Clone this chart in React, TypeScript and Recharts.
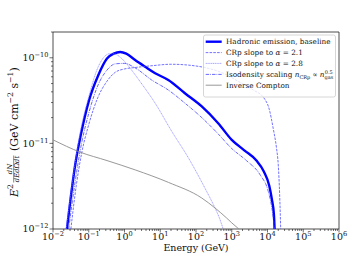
import { LineChart, Line, XAxis, YAxis, ReferenceArea } from 'recharts';

// ── Data (energy in GeV, flux in GeV cm^-2 s^-1) ─────────────────────────────
const BASE_E = [0.0245, 0.0316, 0.0417, 0.06, 0.1, 0.186, 0.324, 0.5, 0.76, 1.12, 1.98, 3.77, 7.2, 16.8, 49, 145, 417, 1000, 2240, 4900, 7900, 11200, 13200, 15100, 15800];
const BASE_F = [1e-12, 2.4e-12, 5.6e-12, 1.26e-11, 3.1e-11, 6.3e-11, 9.8e-11, 1.12e-10, 1.17e-10, 1.12e-10, 9.4e-11, 7.85e-11, 6.6e-11, 5.5e-11, 3.85e-11, 2.7e-11, 1.72e-11, 1.1e-11, 8.3e-12, 6.3e-12, 4.7e-12, 3.2e-12, 2.24e-12, 1.48e-12, 1e-12];

const A21_E = [0.0316, 0.0447, 0.063, 0.1, 0.178, 0.316, 0.56, 1.0, 2.0, 6.3, 20, 63, 200, 630, 1580, 4000, 7900, 11200, 14500, 17800, 20000, 21900, 23400];
const A21_F = [1e-12, 3.2e-12, 7.6e-12, 1.66e-11, 3.4e-11, 5.25e-11, 6.8e-11, 7.4e-11, 7.7e-11, 8.1e-11, 8.4e-11, 8.2e-11, 7.6e-11, 6.5e-11, 5.25e-11, 4.2e-11, 3.4e-11, 2.5e-11, 1.48e-11, 8.9e-12, 5.6e-12, 2.5e-12, 1e-12];

const A28_E = [0.0234, 0.0316, 0.056, 0.1, 0.178, 0.28, 0.4, 0.56, 0.79, 1.26, 2.0, 2.75, 7.2, 21, 61, 178, 340, 450, 575];
const A28_F = [1e-12, 2.6e-12, 1.26e-11, 3.5e-11, 7.6e-11, 1.04e-10, 1.12e-10, 1.1e-10, 1.0e-10, 8.1e-11, 6.3e-11, 5.25e-11, 2.95e-11, 1.38e-11, 6.8e-12, 3.0e-12, 1.76e-12, 1.35e-12, 1e-12];

const ISO_E = [0.0275, 0.04, 0.063, 0.1, 0.178, 0.316, 0.56, 1.0, 2.0, 5.75, 16.8, 49, 145, 417, 1000, 2570, 6200, 10500, 13200, 15800];
const ISO_F = [1e-12, 3.2e-12, 1e-11, 2.24e-11, 4.7e-11, 7.1e-11, 8.5e-11, 8.6e-11, 7.6e-11, 5.5e-11, 4.2e-11, 2.95e-11, 2.0e-11, 1.29e-11, 8.7e-12, 6.3e-12, 4.3e-12, 2.75e-12, 1.78e-12, 1e-12];

const IC_E = [0.01, 0.0575, 0.324, 2.0, 17, 145, 340, 710, 1000, 1580];
const IC_F = [1.1e-11, 7.9e-12, 6.3e-12, 4.9e-12, 3.5e-12, 2.3e-12, 1.76e-12, 1.35e-12, 1.18e-12, 1e-12];

const X_MAJOR = [1e-2, 1e-1, 1, 10, 100, 1000, 1e4, 1e5, 1e6];
const Y_MAJOR = [1e-12, 1e-11, 1e-10];
const MINOR_MULT = [2, 3, 4, 5, 6, 7, 8, 9];

const zip = (es: number[], fs: number[]) => es.map((e, i) => ({ e, f: fs[i] }));

const xTicks = [
  ...X_MAJOR,
  ...X_MAJOR.slice(0, -1).flatMap(d => MINOR_MULT.map(m => m * d)),
];
const yTicks = [
  ...Y_MAJOR,
  ...Y_MAJOR.flatMap(d => MINOR_MULT.map(m => m * d)).filter(v => v <= 2.0001e-10),
];

const FONT = '"DejaVu Serif", serif';
const INK = '#111';

// series styles, shared by plot and legend
const S_BASE = { stroke: '#0000ff', strokeWidth: 2.4 };
const S_21 = { stroke: '#4646ff', strokeOpacity: 0.85, strokeWidth: 0.9, strokeDasharray: '2.6 1.2' };
const S_28 = { stroke: '#7a7aff', strokeOpacity: 0.85, strokeWidth: 0.8, strokeDasharray: '1.2 0.6' };
const S_ISO = { stroke: '#3a3aff', strokeOpacity: 0.85, strokeWidth: 0.9, strokeDasharray: '3.5 1 0.8 1' };
const S_IC = { stroke: '#8c8c8c', strokeWidth: 0.9 };

function expOf(v: number) {
  const lg = Math.log10(v);
  const r = Math.round(lg);
  return { major: Math.abs(lg - r) < 1e-6, exp: r };
}

function XTick({ x, y, payload }: any) {
  const { major, exp } = expOf(payload.value);
  return (
    <g>
      <line x1={x} x2={x} y1={y} y2={y + (major ? 3.5 : 2)} stroke={INK} strokeWidth={0.6} />
      {major && (
        <text x={x} y={y + 11} textAnchor="middle" fontFamily={FONT} fontSize={9.5} fill={INK}>
          10<tspan dy={-4.2} fontSize={6.6}>{exp < 0 ? `−${-exp}` : exp}</tspan>
        </text>
      )}
    </g>
  );
}

function YTick({ x, y, payload }: any) {
  const { major, exp } = expOf(payload.value);
  return (
    <g>
      <line x1={x} x2={x - (major ? 3.5 : 2)} y1={y} y2={y} stroke={INK} strokeWidth={0.6} />
      {major && (
        <text x={x - 4.5} y={y + 3.4} textAnchor="end" fontFamily={FONT} fontSize={9.5} fill={INK}>
          10<tspan dy={-4.2} fontSize={6.6}>{`−${-exp}`}</tspan>
        </text>
      )}
    </g>
  );
}

const LEGEND_ROWS = [41.7, 52.6, 63.4, 74.4, 85.2];

export default function App() {
  return (
    <div style={{ position: 'absolute', left: 0, top: 0, width: 349, height: 262, background: '#fff' }}>
      <LineChart width={349} height={262} margin={{ top: 32, right: 10, bottom: 0, left: 0 }}>
        <XAxis
          type="number"
          dataKey="e"
          scale="log"
          domain={[1e-2, 1e6]}
          allowDataOverflow
          ticks={xTicks}
          interval={0}
          tick={<XTick />}
          tickSize={0}
          tickMargin={0}
          tickLine={false}
          axisLine={false}
          height={33}
        />
        <YAxis
          type="number"
          dataKey="f"
          scale="log"
          domain={[1e-12, 2e-10]}
          allowDataOverflow
          ticks={yTicks}
          interval={0}
          tick={<YTick />}
          tickSize={0}
          tickMargin={0}
          tickLine={false}
          axisLine={false}
          width={53}
        />
        <Line data={zip(BASE_E, BASE_F)} dataKey="f" type="monotone" {...S_BASE} dot={false} isAnimationActive={false} />
        <Line data={zip(A21_E, A21_F)} dataKey="f" type="monotone" {...S_21} dot={false} isAnimationActive={false} />
        <Line data={zip(A28_E, A28_F)} dataKey="f" type="monotone" {...S_28} dot={false} isAnimationActive={false} />
        <Line data={zip(ISO_E, ISO_F)} dataKey="f" type="monotone" {...S_ISO} dot={false} isAnimationActive={false} />
        <Line data={zip(IC_E, IC_F)} dataKey="f" type="monotone" {...S_IC} dot={false} isAnimationActive={false} />
        <ReferenceArea x1={1e-2} x2={1e6} y1={1e-12} y2={2e-10} fill="none" stroke="#222" strokeWidth={0.8} ifOverflow="visible" />
      </LineChart>

      <svg width={349} height={262} style={{ position: 'absolute', left: 0, top: 0, pointerEvents: 'none' }} fontFamily={FONT} fill={INK}>
        {/* y label */}
        <g transform="translate(17.5,130) rotate(-90)">
          <text x={-67} y={0} fontSize={11} fontStyle="italic">E</text>
          <text x={-59} y={-4.8} fontSize={7.7}>2</text>
          <text x={-39} y={-5.2} fontSize={6.8} fontStyle="italic" textAnchor="middle">dN</text>
          <line x1={-52.5} x2={-25.5} y1={-3.8} y2={-3.8} stroke={INK} strokeWidth={0.5} />
          <text x={-39} y={1.8} fontSize={6.8} fontStyle="italic" textAnchor="middle">dEdΩdt</text>
          <text x={-21} y={0} fontSize={11}>
            (GeV cm<tspan dy={-4.8} fontSize={7.7}>−2</tspan><tspan dy={4.8}> s</tspan><tspan dy={-4.8} fontSize={7.7}>−1</tspan><tspan dy={4.8}>)</tspan>
          </text>
        </g>
        {/* x label */}
        <text x={196} y={251} textAnchor="middle" fontSize={9.5}>Energy (GeV)</text>

        {/* legend */}
        <rect x={203.5} y={35} width={132} height={62} rx={2} fill="#fff" fillOpacity={0.8} stroke="#cccccc" strokeWidth={0.8} />
        {[S_BASE, S_21, S_28, S_ISO, S_IC].map((s, i) => (
          <line key={i} x1={205.7} x2={221.7} y1={LEGEND_ROWS[i]} y2={LEGEND_ROWS[i]} {...s} />
        ))}
        <g fontSize={7.3}>
          <text x={226} y={LEGEND_ROWS[0] + 2.6}>Hadronic emission, baseline</text>
          <text x={226} y={LEGEND_ROWS[1] + 2.6}>CRp slope to <tspan fontStyle="italic">α</tspan> = 2.1</text>
          <text x={226} y={LEGEND_ROWS[2] + 2.6}>CRp slope to <tspan fontStyle="italic">α</tspan> = 2.8</text>
          <text x={226} y={LEGEND_ROWS[3] + 2.6}>
            Isodensity scaling <tspan fontStyle="italic">n</tspan>
            <tspan dy={1.8} fontSize={5}>CRp</tspan>
            <tspan dy={-1.8}> ∝ </tspan>
            <tspan fontStyle="italic">n</tspan>
            <tspan dy={1.8} fontSize={5}>gas</tspan>
            <tspan dx={-8.4} dy={-5} fontSize={5}>0.5</tspan>
          </text>
          <text x={226} y={LEGEND_ROWS[4] + 2.6}>Inverse Compton</text>
        </g>
      </svg>
    </div>
  );
}
